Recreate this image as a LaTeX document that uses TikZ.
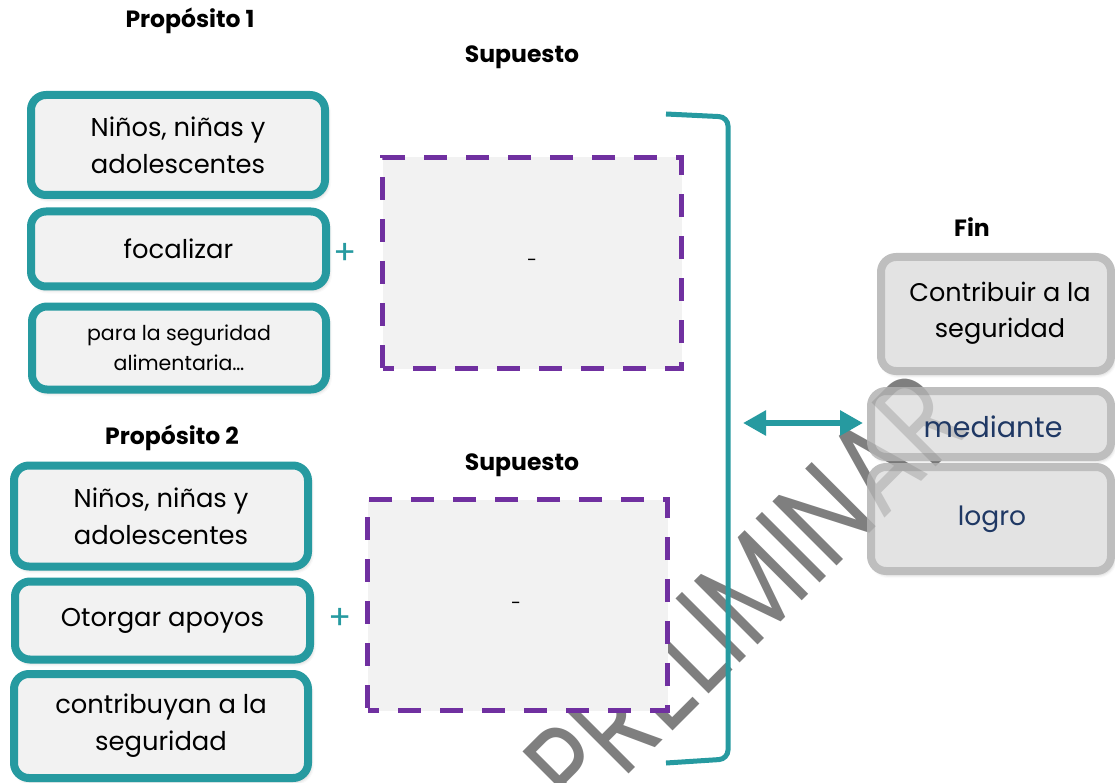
\documentclass[tikz,border=0pt]{standalone}
\usepackage{fontspec}
\setmainfont{Poppins}
\newfontfamily\wmfont{Poppins}
\usetikzlibrary{arrows.meta,shadows.blur}
\definecolor{tealc}{HTML}{269AA0}
\definecolor{purp}{HTML}{7030A0}
\definecolor{boxfill}{HTML}{F2F2F2}
\definecolor{grayline}{HTML}{BEBEBE}
\definecolor{grayfill}{HTML}{E3E3E3}
\definecolor{navy}{HTML}{1F3864}
\definecolor{wmgray}{HTML}{7F7F7F}
\begin{document}
\begin{tikzpicture}[x=1pt,y=-1pt,
  softshadow/.style={blur shadow={shadow xshift=2pt,shadow yshift=-3pt,shadow blur radius=4pt,shadow opacity=30}},
  tealbox/.style={draw=tealc,line width=8pt,fill=boxfill,rounded corners=15pt,
    inner sep=0pt,align=center,softshadow},
  graybox/.style={draw=grayline,line width=8pt,fill=grayfill,rounded corners=15pt,
    inner sep=0pt,softshadow},
  dashbox/.style={draw=purp,line width=5pt,fill=boxfill,inner sep=0pt,
    dash pattern=on 23pt off 19pt,dash phase=11.5pt},
  heading/.style={font=\fontsize{23.5}{26}\selectfont\bfseries},
  big/.style={font=\fontsize{25.8}{37}\selectfont},
  small/.style={font=\fontsize{20.5}{30}\selectfont},
  plus/.style={text=tealc,font=\fontsize{34}{34}\selectfont},
  wm/.style={rotate=45,xscale=0.78,text=wmgray,inner sep=0pt,
    font=\fontsize{130}{130}\wmfont\selectfont}]
\useasboundingbox (0,0) rectangle (1115,783);

% watermark behind everything
\node[wm] (wm) at (746,593) {PRELIMINAR};

% headings
\node[heading] (p1) at (190,21) {Propósito 1};
\node[heading] (s1) at (522,57) {Supuesto};
\node[heading] (p2) at (172,438) {Propósito 2};
\node[heading] (s2) at (522,465) {Supuesto};
\node[heading] (fin) at (972,227) {Fin};

% purpose 1
\node[tealbox,big,minimum width=294pt,minimum height=100pt] (a1) at (178,145) {Niños, niñas y\\adolescentes};
\node[tealbox,big,minimum width=295pt,minimum height=75pt] (a2) at (178.5,249) {focalizar};
\node[tealbox,small,minimum width=294pt,minimum height=83pt] (a3) at (179,348) {para la seguridad\\alimentaria…};
\node[plus] (plus1) at (345,254) {+};
\node[dashbox,minimum width=299pt,minimum height=211pt] (d1) at (532,263) {};
\node[font=\fontsize{18}{18}\selectfont] (m1) at (532,263) {-};

% purpose 2
\node[tealbox,big,minimum width=294pt,minimum height=101pt] (b1) at (161,516) {Niños, niñas y\\adolescentes};
\node[tealbox,big,minimum width=295pt,minimum height=78pt] (b2) at (162.5,620.5) {Otorgar apoyos};
\node[tealbox,big,minimum width=294pt,minimum height=104pt] (b3) at (161,726) {contribuyan a la\\seguridad};
\node[plus] (plus2) at (340,619) {+};
\node[dashbox,minimum width=300pt,minimum height=211pt] (d2) at (517.5,605) {};
\node[font=\fontsize{18}{18}\selectfont] (m2) at (516,606) {-};

% bracket grouping both purposes
\coordinate (brT) at (666,114);
\coordinate (brTR) at (728,117);
\coordinate (brBR) at (728,759);
\coordinate (brB) at (666,763);
\draw[tealc,line width=5pt,rounded corners=9pt] (brT) -- (brTR) -- (brBR) -- (brB);

% goal boxes
\node[graybox,minimum width=230pt,minimum height=114pt] (c1) at (996,314) {};
\node[graybox,minimum width=240pt,minimum height=66pt] (c2) at (991,424) {};
\node[graybox,minimum width=240pt,minimum height=104pt] (c3) at (991,519) {};

% watermark showing faintly through the goal boxes
\begin{scope}
  \clip (867,253) rectangle (1115,375) (867,387) rectangle (1115,461) (867,463) rectangle (1115,575);
  \node[wm,opacity=0.33] (wm2) at (746,593) {PRELIMINAR};
\end{scope}

\node[font=\fontsize{25.5}{36}\selectfont,align=center] (t1) at (1000,313) {Contribuir a la\\seguridad};
\node[font=\fontsize{28.5}{28}\selectfont,text=navy] (t2) at (993,427) {mediante};
\node[font=\fontsize{26.5}{26}\selectfont,text=navy] (t3) at (992,519) {logro};

% double arrow between bracket and goal
\coordinate (arrL) at (743,423);
\draw[tealc,line width=6pt,{Triangle[length=23pt,width=24pt]}-{Triangle[length=23pt,width=24pt]},shorten >=4pt] (arrL) -- (c2.west |- arrL);
\end{tikzpicture}
\end{document}
